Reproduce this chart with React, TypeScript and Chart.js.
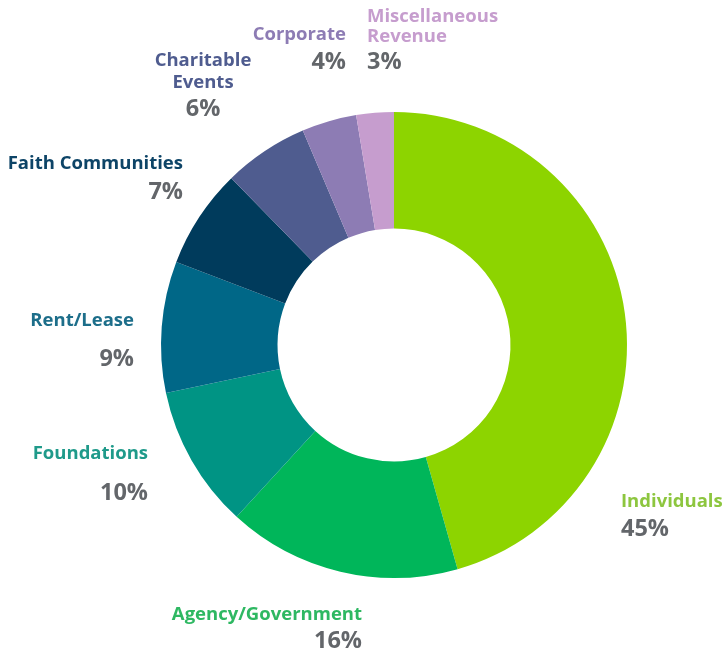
import React, { useEffect, useRef } from "react";
import { Chart, registerables } from "chart.js";

Chart.register(...registerables);

const categories = [
  "Individuals",
  "Agency/Government",
  "Foundations",
  "Rent/Lease",
  "Faith Communities",
  "Charitable Events",
  "Corporate",
  "Miscellaneous Revenue",
];
const values = [45.6, 16.2, 9.9, 9.1, 6.9, 5.9, 3.8, 2.6];
const pctLabels = ["45%", "16%", "10%", "9%", "7%", "6%", "4%", "3%"];
const sliceColors = ["#8dd400", "#00b65a", "#009484", "#006787", "#003b5c", "#4f5c8f", "#8d7cb4", "#c69dce"];
const labelColors = ["#8dc63f", "#2eb862", "#1f9a8a", "#1d6e8a", "#0d4467", "#4f5c8f", "#8d7cb4", "#c69dce"];
const labelLines = [
  ["Individuals"],
  ["Agency/Government"],
  ["Foundations"],
  ["Rent/Lease"],
  ["Faith Communities"],
  ["Charitable", "Events"],
  ["Corporate"],
  ["Miscellaneous", "Revenue"],
];

// label layout: x anchor, alignment, y of each name line, y of percentage
const labelLayout = [
  { x: 621, align: "left", lines: [502], pct: 529 },
  { x: 362, align: "right", lines: [615], pct: 641 },
  { x: 148, align: "right", lines: [454], pct: 493 },
  { x: 134, align: "right", lines: [321], pct: 359 },
  { x: 183, align: "right", lines: [164], pct: 192 },
  { x: 203, align: "center", lines: [61, 83], pct: 109 },
  { x: 346, align: "right", lines: [35], pct: 62 },
  { x: 367, align: "left", lines: [17, 37], pct: 62 },
];

const labelPlugin = {
  id: "customLabels",
  afterDraw(chart: any) {
    const ctx = chart.ctx;
    ctx.save();
    ctx.textBaseline = "middle";
    labelLayout.forEach((l, i) => {
      ctx.textAlign = l.align;
      ctx.fillStyle = labelColors[i];
      ctx.font = "bold 18.5px 'Open Sans'";
      labelLines[i].forEach((t, j) => ctx.fillText(t, l.x, l.lines[j]));
      ctx.fillStyle = "#63666a";
      ctx.font = "bold 23.5px 'Open Sans'";
      ctx.fillText(pctLabels[i], l.x, l.pct);
    });
    ctx.restore();
  },
};

export default function App() {
  const ref = useRef<HTMLCanvasElement>(null);
  useEffect(() => {
    const chart = new Chart(ref.current!, {
      type: "doughnut",
      data: {
        labels: categories,
        datasets: [
          {
            data: values,
            backgroundColor: sliceColors,
            borderWidth: 0,
          },
        ],
      },
      options: {
        responsive: false,
        animation: false,
        cutout: "50%",
        layout: { padding: { left: 161, right: 96, top: 112, bottom: 76 } },
        plugins: { legend: { display: false }, tooltip: { enabled: false } },
      },
      plugins: [labelPlugin],
    });
    return () => chart.destroy();
  }, []);
  return (
    <div style={{ position: "fixed", left: 0, top: 0, width: 723, height: 654, background: "#fff" }}>
      <canvas ref={ref} width={723} height={654} />
    </div>
  );
}
